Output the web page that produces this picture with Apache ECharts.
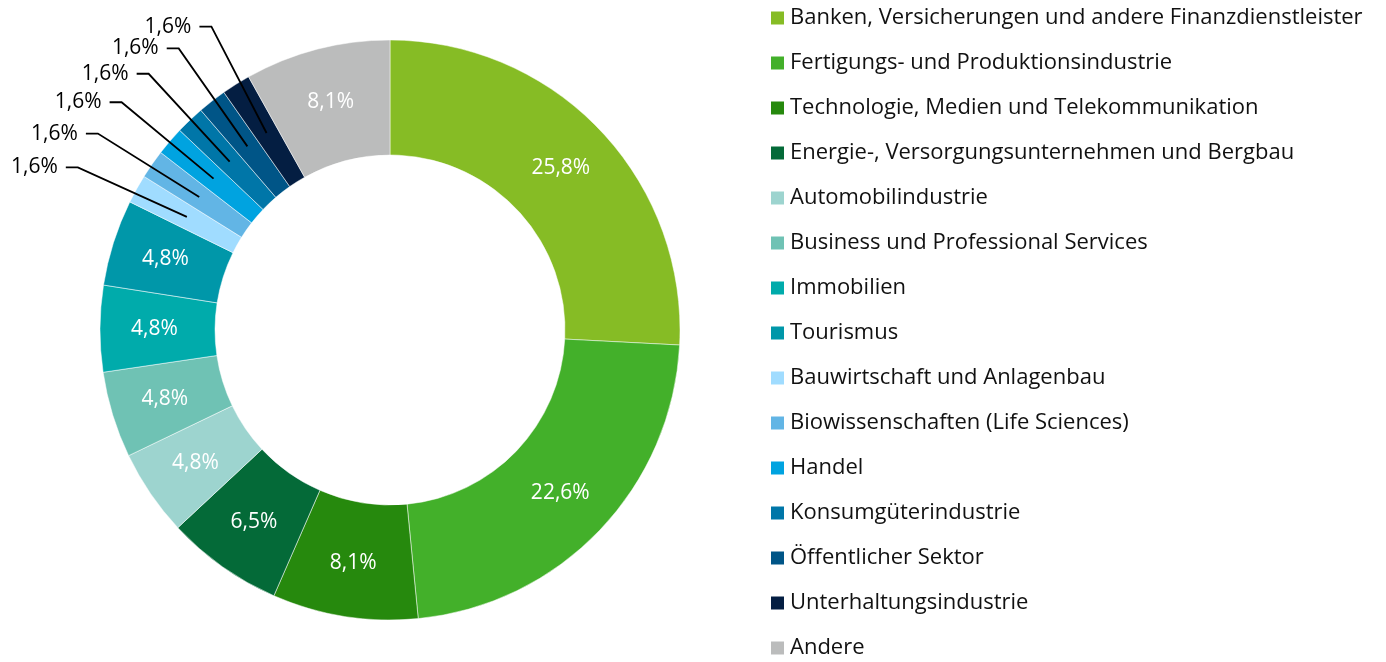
<!DOCTYPE html>
<html lang="de">
<head>
<meta charset="UTF-8">
<script src="https://cdn.jsdelivr.net/npm/echarts@6/dist/echarts.min.js"></script>
<style>
  html, body { margin: 0; padding: 0; background: #fff; }
  #chart { width: 1386px; height: 662px; }
</style>
</head>
<body>
<div id="chart"></div>
<script>
// sectors, clockwise from 12 o'clock
const categories = [
  'Banken, Versicherungen und andere Finanzdienstleister',
  'Fertigungs- und Produktionsindustrie',
  'Technologie, Medien und Telekommunikation',
  'Energie-, Versorgungsunternehmen und Bergbau',
  'Automobilindustrie',
  'Business und Professional Services',
  'Immobilien',
  'Tourismus',
  'Bauwirtschaft und Anlagenbau',
  'Biowissenschaften (Life Sciences)',
  'Handel',
  'Konsumgüterindustrie',
  'Öffentlicher Sektor',
  'Unterhaltungsindustrie',
  'Andere'
];
const shares = [25.8, 22.6, 8.1, 6.5, 4.8, 4.8, 4.8, 4.8, 1.6, 1.6, 1.6, 1.6, 1.6, 1.6, 8.1];
const colors = [
  '#86bc25', '#43b02a', '#26890d', '#046a38', '#9dd4cf', '#6fc2b4', '#00abab', '#0097a9',
  '#a0dcff', '#62b5e5', '#00a3e0', '#0076a8', '#005587', '#041e42', '#bbbcbc'
];

const FONT = '"Open Sans", sans-serif';
const cx = 390, cy = 330, rIn = 175, rOut = 290;
const rMid = (rIn + rOut) / 2;
const rElbow = 352;   // where the leader line turns horizontal
const fan = 1.11;     // spread the small-slice leaders a bit apart

let chart = echarts.init(document.getElementById('chart'));

function fmt(v) { return v.toFixed(1).replace('.', ',') + '%'; }
function isSmall(i) { return shares[i] < 2; }

// mid angle of each slice, degrees clockwise from 12 o'clock
let total = shares.reduce(function (a, b) { return a + b; }, 0);
let midAngle = [];
let acc = 0;
shares.forEach(function (v) {
  midAngle.push(360 * (acc + v / 2) / total);
  acc += v;
});
let smallIdx = shares.map(function (v, i) { return isSmall(i) ? i : -1; }).filter(function (i) { return i >= 0; });
let groupMid = smallIdx.reduce(function (a, i) { return a + midAngle[i]; }, 0) / smallIdx.length;

function polar(deg, r) {
  let a = (deg - 90) * Math.PI / 180;
  return [cx + r * Math.cos(a), cy + r * Math.sin(a)];
}

// the coloured ring with the inside labels
let ringData = categories.map(function (name, i) {
  return {
    name: name, value: shares[i], itemStyle: { color: colors[i] },
    label: { show: !isSmall(i) }
  };
});

// transparent copy on top: only carries the outside labels + leader lines
let calloutData = categories.map(function (name, i) {
  return {
    name: name, value: shares[i],
    label: { show: isSmall(i) },
    labelLine: { show: isSmall(i) }
  };
});

let option = {
  animation: false,
  legend: {
    orient: 'vertical',
    left: 764,
    top: 2,
    height: 700,
    icon: 'rect',
    itemWidth: 15,
    itemHeight: 15,
    itemGap: 23,
    textStyle: { fontFamily: FONT, fontSize: 22, color: '#111', lineHeight: 20 },
    data: categories
  },
  series: [{
    type: 'pie',
    center: [cx, cy],
    radius: [rIn, rOut],
    startAngle: 90,
    clockwise: true,
    avoidLabelOverlap: false,
    itemStyle: { borderColor: '#fff', borderWidth: 0.5 },
    label: {
      position: 'inside',
      fontFamily: FONT,
      fontSize: 21,
      color: '#fff',
      formatter: function (p) { return fmt(p.value); }
    },
    labelLine: { show: false },
    data: ringData
  }, {
    type: 'pie',
    z: 5,
    silent: true,
    center: [cx, cy],
    radius: [rIn, rOut],
    startAngle: 90,
    clockwise: true,
    avoidLabelOverlap: false,
    itemStyle: { color: 'rgba(0,0,0,0)' },
    label: {
      position: 'outside',
      fontFamily: FONT,
      fontSize: 21,
      color: '#000',
      formatter: function (p) { return fmt(p.value); }
    },
    labelLine: {
      length: 62,
      length2: 12,
      lineStyle: { color: '#000', width: 1.8 }
    },
    labelLayout: function (params) {
      let i = params.dataIndex;
      if (!isSmall(i)) return {};
      let a = midAngle[i];
      let start = polar(a, rMid);
      let elbow = polar(groupMid + (a - groupMid) * fan, rElbow);
      let end = [elbow[0] - 12, elbow[1]];
      return {
        x: end[0] - 8,
        y: elbow[1],
        align: 'right',
        verticalAlign: 'middle',
        labelLinePoints: [start, elbow, end]
      };
    },
    data: calloutData
  }]
};

chart.setOption(option);
</script>
</body>
</html>
